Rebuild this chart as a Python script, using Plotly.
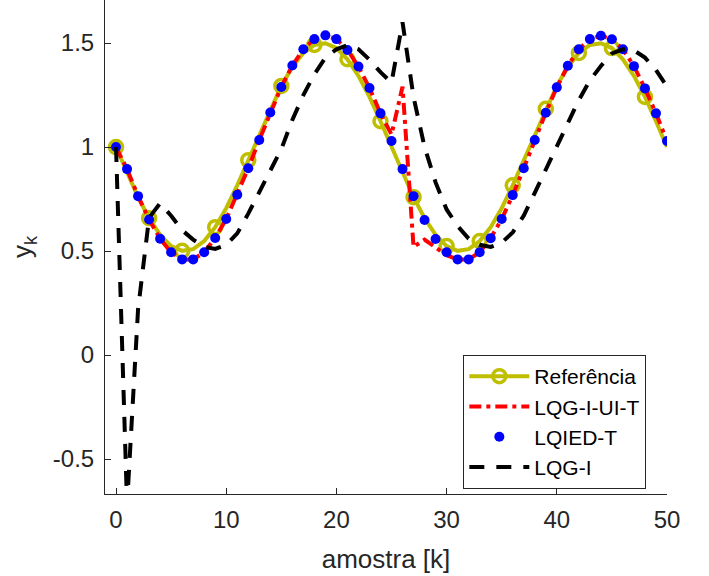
import plotly.graph_objects as go

# ---------------- data ----------------
k = list(range(0, 51))

referencia = [1.000, 0.876, 0.759, 0.658, 0.578, 0.524, 0.501, 0.509, 0.548, 0.615,
              0.706, 0.816, 0.937, 1.063, 1.184, 1.294, 1.385, 1.452, 1.491, 1.499,
              1.476, 1.422, 1.342, 1.241, 1.124, 1.000, 0.876, 0.759, 0.658, 0.578,
              0.524, 0.501, 0.509, 0.548, 0.615, 0.706, 0.816, 0.937, 1.063, 1.184,
              1.294, 1.385, 1.452, 1.491, 1.499, 1.476, 1.422, 1.342, 1.241, 1.124,
              1.000]

lqied_t = [1.000, 0.894, 0.764, 0.652, 0.559, 0.494, 0.460, 0.460, 0.494, 0.563,
           0.654, 0.771, 0.898, 1.034, 1.166, 1.289, 1.392, 1.470, 1.519, 1.537,
           1.519, 1.467, 1.387, 1.284, 1.162, 1.029, 0.894, 0.764, 0.649, 0.558,
           0.494, 0.460, 0.460, 0.494, 0.562, 0.654, 0.769, 0.898, 1.034, 1.165,
           1.287, 1.391, 1.470, 1.519, 1.535, 1.518, 1.470, 1.389, 1.282, 1.162,
           1.029]

lqg_i_ui_t = [1.000, 0.894, 0.764, 0.652, 0.559, 0.494, 0.460, 0.460, 0.494, 0.563,
              0.654, 0.771, 0.898, 1.034, 1.166, 1.289, 1.392, 1.470, 1.519, 1.537,
              1.519, 1.467, 1.387, 1.284, 1.162, 1.060, 1.290, 0.520, 0.555, 0.515,
              0.480, 0.460, 0.460, 0.494, 0.562, 0.654, 0.769, 0.898, 1.034, 1.165,
              1.287, 1.391, 1.470, 1.519, 1.535, 1.518, 1.470, 1.389, 1.282, 1.162,
              1.029]

lqg_i = [1.000, -0.720, 0.220, 0.660, 0.730, 0.670, 0.600, 0.555, 0.520, 0.510,
         0.530, 0.585, 0.680, 0.780, 0.880, 0.990, 1.130, 1.250, 1.350, 1.430,
         1.470, 1.490, 1.470, 1.420, 1.360, 1.310, 1.600, 1.240, 1.000, 0.830,
         0.700, 0.620, 0.560, 0.530, 0.520, 0.540, 0.590, 0.670, 0.780, 0.890,
         1.010, 1.120, 1.226, 1.320, 1.390, 1.450, 1.470, 1.465, 1.430, 1.370,
         1.290]

marker_step = 3
x_ticks = [0, 10, 20, 30, 40, 50]
y_ticks = [-0.5, 0, 0.5, 1, 1.5]
y_tick_text = ["-0.5", "0", "0.5", "1", "1.5"]

names = ["Referência", "LQG-I-UI-T", "LQIED-T", "LQG-I"]

# ---------------- style ----------------
YEL = "#BFBF00"
TXT = "#262626"
FONT = "Liberation Sans, Arial, Helvetica, sans-serif"

fig = go.Figure()

# Reference line (all samples) + open circles every 3 samples
fig.add_trace(go.Scatter(x=k, y=referencia, mode="lines",
                         line=dict(color=YEL, width=4), showlegend=False,
                         hoverinfo="skip"))
fig.add_trace(go.Scatter(x=k[::marker_step], y=referencia[::marker_step], mode="markers",
                         marker=dict(symbol="circle-open", size=13, color=YEL,
                                     line=dict(color=YEL, width=3.5)),
                         showlegend=False, hoverinfo="skip"))

fig.add_trace(go.Scatter(x=k, y=lqg_i_ui_t, mode="lines", name=names[1],
                         line=dict(color="#FF0000", width=4, dash="12px,5px,4px,5px"),
                         legendrank=2))
fig.add_trace(go.Scatter(x=k, y=lqied_t, mode="markers", name=names[2],
                         marker=dict(color="#0000FF", size=10), legendrank=3))
fig.add_trace(go.Scatter(x=k, y=lqg_i, mode="lines", name=names[3],
                         line=dict(color="#000000", width=4, dash="15px,12px"),
                         legendrank=4))

# legend entry for the reference (line with circle marker)
fig.add_trace(go.Scatter(x=[None], y=[None], mode="lines+markers", name=names[0],
                         line=dict(color=YEL, width=4),
                         marker=dict(symbol="circle-open", size=13, color=YEL,
                                     line=dict(color=YEL, width=3.5)),
                         legendrank=1))

fig.update_layout(
    width=709, height=576,
    margin=dict(l=105, r=42, t=0, b=82, autoexpand=False),
    paper_bgcolor="white", plot_bgcolor="white",
    font=dict(family=FONT, color=TXT, size=24),
    hovermode=False,
    legend=dict(x=0.6376, y=0.2814, xanchor="left", yanchor="top",
                bgcolor="white", bordercolor=TXT, borderwidth=1,
                font=dict(family=FONT, size=21, color="#000000"),
                tracegroupgap=0, itemwidth=60),
    xaxis=dict(range=[-1, 50], tickvals=x_ticks, ticks="inside", ticklen=6,
               tickcolor=TXT, showline=True, linecolor=TXT, linewidth=1,
               showgrid=False, zeroline=False, mirror=False,
               tickfont=dict(size=24, color=TXT, family=FONT),
               ticklabelstandoff=4,
               title=dict(text="amostra [k]", font=dict(size=26, color=TXT, family=FONT),
                          standoff=18),
               automargin=False),
    yaxis=dict(range=[-0.668, 1.707], tickvals=y_ticks, ticktext=y_tick_text,
               ticks="inside", ticklen=6, tickcolor=TXT, showline=True,
               linecolor=TXT, linewidth=1, showgrid=False, zeroline=False,
               mirror=False, tickfont=dict(size=24, color=TXT, family=FONT),
               ticklabelstandoff=5,
               title=dict(text="y<sub>k</sub>", font=dict(size=26, color=TXT, family=FONT),
                          standoff=13),
               automargin=False),
)

fig.write_html("out.html", config={"displayModeBar": False},
               post_script="document.body.style.margin='0';document.body.style.overflow='hidden';")
